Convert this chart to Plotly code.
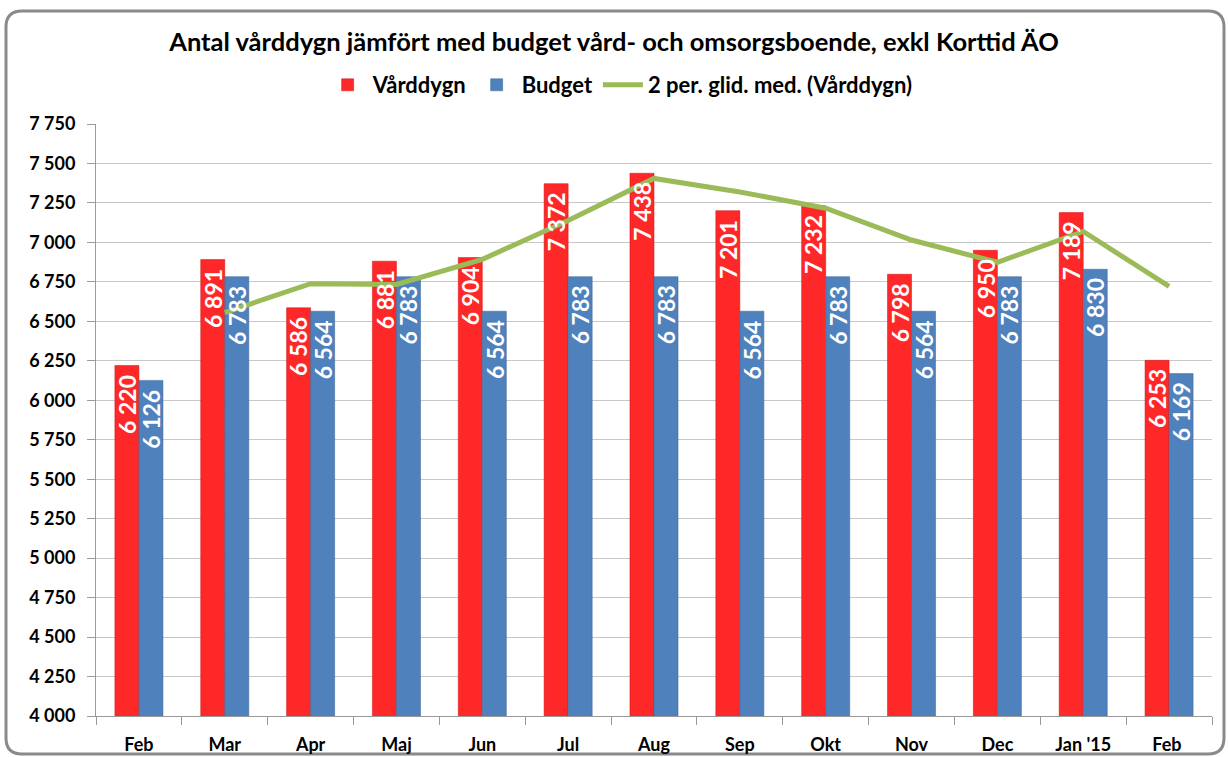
import plotly.graph_objects as go

categories = ["Feb", "Mar", "Apr", "Maj", "Jun", "Jul", "Aug", "Sep", "Okt", "Nov", "Dec", "Jan '15", "Feb "]
varddygn = [6220, 6891, 6586, 6881, 6904, 7372, 7438, 7201, 7232, 6798, 6950, 7189, 6253]
budget = [6126, 6783, 6564, 6783, 6564, 6783, 6783, 6564, 6783, 6564, 6783, 6830, 6169]
glid_med = [None, 6555.5, 6738.5, 6733.5, 6892.5, 7138, 7405, 7319.5, 7216.5, 7015, 6874, 7069.5, 6721]
y_ticks = [4000, 4250, 4500, 4750, 5000, 5250, 5500, 5750, 6000, 6250, 6500, 6750, 7000, 7250, 7500, 7750]

FONT = "Lato"
W, H = 1228, 757
L, R, T, B = 96, 16, 124, 41
pw, ph = W - L - R, H - T - B
BAR_OFFSET = 12  # px, half of a bar width

def fmt(v):
    return f"{v:,}".replace(",", " ")

def px(x, y):
    return (x - L) / pw, (H - B - y) / ph

fig = go.Figure()
fig.add_trace(go.Bar(
    name="Vårddygn", x=categories, y=varddygn,
    marker=dict(color="#FF2828", line=dict(color="#D01010", width=0.5)),
))
fig.add_trace(go.Bar(
    name="Budget", x=categories, y=budget,
    marker=dict(color="#4F81BD", line=dict(color="#3A6496", width=0.5)),
))
fig.add_trace(go.Scatter(
    name="2 per. glid. med. (Vårddygn)", x=categories, y=glid_med, mode="lines",
    line=dict(color="#9BBB59", width=5), connectgaps=False,
))

label_font = dict(color="white", size=23, family=FONT, weight="bold")
for series, shift in ((varddygn, -BAR_OFFSET), (budget, BAR_OFFSET)):
    for c, v in zip(categories, series):
        fig.add_annotation(x=c, y=v, text=fmt(v), textangle=-90, showarrow=False,
                           xanchor="center", yanchor="top", xshift=shift, yshift=-7,
                           font=label_font)

fig.update_layout(
    width=W, height=H,
    margin=dict(l=L, r=R, t=T, b=B, pad=0, autoexpand=False),
    paper_bgcolor="white", plot_bgcolor="white",
    barmode="group", bargap=0.44, bargroupgap=0,
    font=dict(family=FONT, color="black"),
    title=dict(text="<b>Antal vårddygn jämfört med budget vård- och omsorgsboende, exkl Korttid ÄO</b>",
               x=0.5, xanchor="center", xref="container", y=1 - 42 / H, yanchor="middle", yref="container",
               font=dict(size=25.5, family=FONT, color="black")),
    legend=dict(orientation="h", x=0.505, xanchor="center", xref="container",
                y=1 - 85 / H, yanchor="middle", yref="container",
                font=dict(size=22, family=FONT, color="black", weight="bold"),
                itemwidth=40, traceorder="normal"),
    showlegend=True,
)
fig.update_xaxes(
    type="category", showgrid=False, showline=True, linecolor="#9A9A9A", linewidth=1,
    ticks="outside", tickson="boundaries", ticklen=8, tickcolor="#9A9A9A",
    tickfont=dict(size=18, family=FONT, color="black", weight="bold"),
    ticklabelstandoff=12, automargin=False,
)
fig.update_yaxes(
    range=[4000, 7750], tickvals=y_ticks, ticktext=[fmt(v) for v in y_ticks],
    showgrid=True, gridcolor="#C8C8C8", gridwidth=1,
    showline=True, linecolor="#9A9A9A", linewidth=1,
    ticks="outside", ticklen=8, tickcolor="#9A9A9A",
    tickfont=dict(size=18, family=FONT, color="black", weight="bold"),
    ticklabelstandoff=8, zeroline=False, automargin=False,
)

# outer rounded frame (pixel coordinates converted to paper)
fx0, fy0, fx1, fy1, rad = 6, 11, 1224, 754, 16
def P(x, y):
    a, b = px(x, y)
    return f"{a:.5f},{b:.5f}"
path = (f"M {P(fx0 + rad, fy0)} L {P(fx1 - rad, fy0)} Q {P(fx1, fy0)} {P(fx1, fy0 + rad)} "
        f"L {P(fx1, fy1 - rad)} Q {P(fx1, fy1)} {P(fx1 - rad, fy1)} "
        f"L {P(fx0 + rad, fy1)} Q {P(fx0, fy1)} {P(fx0, fy1 - rad)} "
        f"L {P(fx0, fy0 + rad)} Q {P(fx0, fy0)} {P(fx0 + rad, fy0)} Z")
fig.add_shape(type="path", xref="paper", yref="paper", path=path,
              line=dict(color="#8A8A8A", width=3), fillcolor="rgba(0,0,0,0)", layer="below")

fig.write_html("out.html", config={"displayModeBar": False},
               post_script="document.body.style.margin='0';document.body.style.overflow='hidden';")
